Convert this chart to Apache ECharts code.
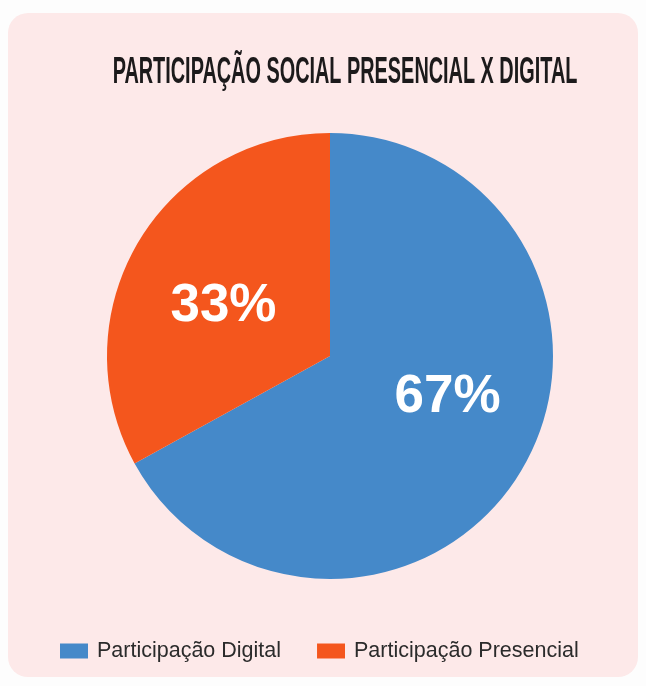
<!DOCTYPE html>
<html>
<head>
<meta charset="utf-8">
<style>
  html, body { margin: 0; padding: 0; background: #fdfdfd; }
  #chart { width: 646px; height: 686px; }
</style>
<script src="https://cdn.jsdelivr.net/npm/echarts@6/dist/echarts.min.js"></script>
</head>
<body>
<div id="chart"></div>
<script>
// dados do gráfico
var categorias = ['Participação Digital', 'Participação Presencial'];
var valores = [67, 33];
var cores = ['#4589c9', '#f4561d'];
var titulo = 'PARTICIPAÇÃO SOCIAL PRESENCIAL X DIGITAL';

// ajuste fino da posição dos rótulos dentro das fatias
var rotuloPadding = [[0, 0, 0, 38], [0, 16, 0, 0]];
var rotuloFormato = ['{c}%\n{g| }', '{h| }\n{c}%'];

var chart = echarts.init(document.getElementById('chart'));

var dados = categorias.map(function (nome, i) {
    return {
        name: nome,
        value: valores[i],
        itemStyle: { color: cores[i] },
        label: { padding: rotuloPadding[i], formatter: rotuloFormato[i] }
    };
});

chart.setOption({
    animation: false,
    graphic: [
        {
            type: 'rect',
            shape: { x: 8, y: 13, width: 630, height: 664, r: 20 },
            style: { fill: '#fde9e9' },
            z: -10
        },
        {
            type: 'text',
            x: 345,
            y: 73,
            scaleX: 0.537,
            style: {
                text: titulo,
                font: 'bold 37px "Liberation Sans Narrow", "Liberation Sans", sans-serif',
                fill: '#1c1a1b',
                textAlign: 'center',
                textVerticalAlign: 'middle'
            }
        }
    ],
    legend: {
        data: categorias,
        left: 55,
        top: 635,
        icon: 'rect',
        itemWidth: 28,
        itemHeight: 15,
        itemGap: 36,
        textStyle: {
            fontFamily: 'Liberation Sans, Arial, sans-serif',
            fontSize: 21.5,
            color: '#2b2b2b',
            padding: [0, 0, 0, 4]
        }
    },
    series: [{
        type: 'pie',
        center: [330, 356],
        radius: 223,
        startAngle: 90,
        clockwise: true,
        silent: true,
        label: {
            show: true,
            position: 'inside',
            color: '#fff',
            fontFamily: 'Liberation Sans, Arial, sans-serif',
            fontWeight: 'bold',
            fontSize: 53,
            lineHeight: 60,
            rich: {
                g: { fontSize: 10, lineHeight: 34 },
                h: { fontSize: 10, lineHeight: 18 }
            }
        },
        labelLine: { show: false },
        data: dados
    }]
});
</script>
</body>
</html>
